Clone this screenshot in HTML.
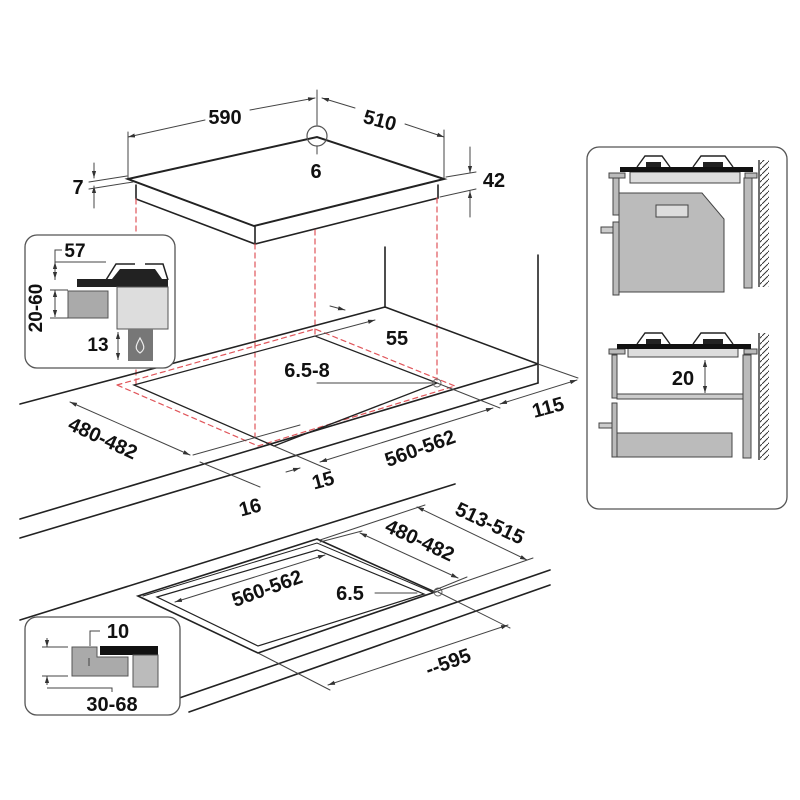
<!DOCTYPE html>
<html><head><meta charset="utf-8"><style>
html,body{margin:0;padding:0;background:#fff}
svg{display:block}
text{font-family:"Liberation Sans",sans-serif;font-weight:bold;fill:#111}
</style></head><body>
<svg width="800" height="800" viewBox="0 0 800 800" xmlns="http://www.w3.org/2000/svg">
<defs>
<marker id="a" viewBox="0 0 10 10" refX="10" refY="5" markerWidth="7" markerHeight="7" orient="auto-start-reverse"><path d="M0,2 L10,5 L0,8 z" fill="#333"/></marker>
<pattern id="h" width="6" height="6" patternUnits="userSpaceOnUse"><path d="M0,6 L6,0" stroke="#333" stroke-width="1"/></pattern>
</defs>
<g fill="none" stroke="#222" stroke-linecap="round">
<path d="M128,179 L317,137 L444,179 L254,226 Z" stroke-width="2"/>
<path d="M136,185 V199 L255,244 L438,198 V185" stroke-width="1.6"/>
<line x1="255" y1="226" x2="255" y2="244" stroke-width="1.6"/>
<circle cx="317" cy="136" r="10" stroke-width="1.2" stroke="#555"/>
<g stroke="#444" stroke-width="1">
<line x1="128" y1="132" x2="128" y2="178"/>
<line x1="317" y1="90" x2="317" y2="125"/><line x1="317" y1="146" x2="317" y2="154"/>
<line x1="444" y1="130" x2="444" y2="178"/>
<line x1="128" y1="137" x2="205" y2="120" marker-start="url(#a)"/>
<line x1="250" y1="110" x2="315" y2="98" marker-end="url(#a)"/>
<line x1="322" y1="98" x2="355" y2="108" marker-start="url(#a)"/>
<line x1="405" y1="124" x2="444" y2="137" marker-end="url(#a)"/>
<line x1="94" y1="163" x2="94" y2="178" marker-end="url(#a)"/>
<line x1="94" y1="208" x2="94" y2="186" marker-end="url(#a)"/>
<line x1="89" y1="182" x2="127" y2="176"/><line x1="89" y1="189" x2="133" y2="182"/>
<line x1="470" y1="147" x2="470" y2="173" marker-end="url(#a)"/>
<line x1="470" y1="217" x2="470" y2="191" marker-end="url(#a)"/>
<line x1="446" y1="177" x2="476" y2="172"/><line x1="440" y1="197" x2="476" y2="189"/>
</g>
<g stroke="#e0555a" stroke-width="1.2" stroke-dasharray="5,4">
<line x1="136" y1="199" x2="136" y2="385"/>
<line x1="255" y1="244" x2="255" y2="437"/>
<line x1="315" y1="230" x2="315" y2="335"/>
<line x1="437" y1="198" x2="437" y2="380"/>
<path d="M117,385 L315,329 L455,386 L258,446 Z"/>
</g>
<g stroke-width="1.6">
<line x1="20" y1="404" x2="385" y2="307"/>
<line x1="385" y1="307" x2="538" y2="364"/>
<line x1="538" y1="364" x2="20" y2="519"/>
<line x1="538" y1="383" x2="20" y2="538"/>
<line x1="538" y1="364" x2="538" y2="383"/>
<line x1="385" y1="247" x2="385" y2="307"/>
<line x1="538" y1="255" x2="538" y2="364"/>
<path d="M134,385 L315,336 L437,383 L274,446 Z" stroke-width="1.3"/>
</g>
<circle cx="437" cy="383" r="4" stroke-width="1" stroke="#666"/>
<g stroke="#444" stroke-width="1">
<line x1="317" y1="383" x2="433" y2="383"/>
<line x1="315" y1="336" x2="375" y2="320" marker-end="url(#a)"/>
<line x1="330" y1="306" x2="345" y2="310" marker-end="url(#a)"/>
<line x1="437" y1="383" x2="500" y2="408"/>
<line x1="538" y1="364" x2="578" y2="378"/>
<line x1="500" y1="404" x2="577" y2="380" marker-start="url(#a)" marker-end="url(#a)"/>
<line x1="320" y1="462" x2="493" y2="408" marker-start="url(#a)" marker-end="url(#a)"/>
<line x1="274" y1="446" x2="330" y2="470"/>
<line x1="70" y1="402" x2="190" y2="455" marker-start="url(#a)" marker-end="url(#a)"/>
<line x1="200" y1="462" x2="260" y2="487"/>
<line x1="193" y1="455" x2="300" y2="425"/>
<line x1="286" y1="472" x2="300" y2="468" marker-end="url(#a)"/>
</g>
<g stroke-width="1.6">
<line x1="20" y1="620" x2="455" y2="484"/>
<line x1="159" y1="705" x2="550" y2="570"/>
<line x1="189" y1="712" x2="550" y2="585"/>
</g>
<path d="M138,596 L317,539 L435,592 L258,653 Z" stroke-width="1.6"/>
<path d="M143,596 L317,543 L432,592" stroke-width="1"/>
<path d="M157,597 L317,550 L424,594 L258,646 Z" stroke-width="1.2"/>
<circle cx="438" cy="592" r="4" stroke-width="1" stroke="#666"/>
<g stroke="#444" stroke-width="1">
<line x1="175" y1="602" x2="325" y2="555" marker-start="url(#a)" marker-end="url(#a)"/>
<line x1="375" y1="593" x2="417" y2="593"/>
<line x1="320" y1="542" x2="362" y2="531"/>
<line x1="360" y1="533" x2="458" y2="578" marker-start="url(#a)" marker-end="url(#a)"/>
<line x1="435" y1="590" x2="467" y2="577"/>
<line x1="320" y1="540" x2="425" y2="505"/>
<line x1="417" y1="507" x2="527" y2="560" marker-start="url(#a)" marker-end="url(#a)"/>
<line x1="435" y1="592" x2="533" y2="558"/>
<line x1="438" y1="592" x2="510" y2="628"/>
<line x1="258" y1="653" x2="330" y2="690"/>
<line x1="328" y1="685" x2="508" y2="625" marker-start="url(#a)" marker-end="url(#a)"/>
</g>
</g>
<g font-size="20">
<text x="225" y="124" text-anchor="middle">590</text>
<text x="380" y="127" text-anchor="middle" transform="rotate(15 380 120)">510</text>
<text x="316" y="178" text-anchor="middle">6</text>
<text x="78" y="194" text-anchor="middle">7</text>
<text x="494" y="187" text-anchor="middle">42</text>
<text x="397" y="345" text-anchor="middle">55</text>
<text x="307" y="377" text-anchor="middle">6.5-8</text>
<text x="548" y="414" text-anchor="middle" transform="rotate(-15 548 407)">115</text>
<text x="420" y="455" text-anchor="middle" transform="rotate(-20 420 448)">560-562</text>
<text x="103" y="445" text-anchor="middle" transform="rotate(25 103 438)">480-482</text>
<text x="323" y="487" text-anchor="middle" transform="rotate(-15 323 480)">15</text>
<text x="250" y="514" text-anchor="middle" transform="rotate(-15 250 507)">16</text>
<text x="267" y="595" text-anchor="middle" transform="rotate(-20 267 588)">560-562</text>
<text x="350" y="600" text-anchor="middle">6.5</text>
<text x="420" y="547" text-anchor="middle" transform="rotate(25 420 540)">480-482</text>
<text x="490" y="530" text-anchor="middle" transform="rotate(25 490 523)">513-515</text>
<text x="448" y="669" text-anchor="middle" transform="rotate(-20 448 662)">--595</text>
</g>

<rect x="25" y="235" width="150" height="133" rx="12" fill="#fff" stroke="#555" stroke-width="1.3"/>
<path d="M106,280 L116,264 H135 M145,264 H163 L168,280" fill="none" stroke="#222" stroke-width="1.5"/>
<path d="M112,279 L120,269 H155 L162,279 Z" fill="#222"/>
<rect x="77" y="279" width="91" height="8" fill="#222"/>
<rect x="117" y="287" width="51" height="42" fill="#ddd" stroke="#555"/>
<rect x="68" y="291" width="40" height="27" fill="#aaa" stroke="#555"/>
<rect x="128" y="329" width="25" height="32" fill="#777"/>
<path d="M140,338 C136,345 134,349 140,353 C146,349 144,345 140,338 Z" fill="none" stroke="#eee" stroke-width="1.2"/>
<g stroke="#444" stroke-width="1" fill="none">
<path d="M62,250 H55 V280"/><line x1="55" y1="262" x2="106" y2="262"/>
<line x1="55" y1="262" x2="55" y2="279" marker-start="url(#a)" marker-end="url(#a)"/>
<line x1="55" y1="290" x2="55" y2="317" marker-start="url(#a)" marker-end="url(#a)"/>
<line x1="50" y1="290" x2="68" y2="290"/><line x1="50" y1="318" x2="68" y2="318"/>
<line x1="118" y1="332" x2="118" y2="360" marker-start="url(#a)" marker-end="url(#a)"/>
</g>
<text x="75" y="257" font-size="19" text-anchor="middle">57</text>
<text x="98" y="351" font-size="19" text-anchor="middle">13</text>
<text x="42" y="308" font-size="19" text-anchor="middle" transform="rotate(-90 42 308)">20-60</text>

<rect x="25" y="617" width="155" height="98" rx="12" fill="#fff" stroke="#555" stroke-width="1.3"/>
<rect x="100" y="646" width="58" height="9" fill="#111"/>
<rect x="133" y="655" width="25" height="32" fill="#bbb" stroke="#555"/>
<path d="M72,647 H97 V657 H128 V676 H72 Z" fill="#aaa" stroke="#555"/>
<g stroke="#444" stroke-width="1" fill="none">
<line x1="42" y1="647" x2="68" y2="647"/><line x1="42" y1="676" x2="68" y2="676"/>
<line x1="47" y1="638" x2="47" y2="647" marker-end="url(#a)"/>
<line x1="47" y1="685" x2="47" y2="676" marker-end="url(#a)"/>
<path d="M47,688 H112 V692"/>
<path d="M100,631 H90 V646"/>
<line x1="89" y1="658" x2="89" y2="666"/>
</g>
<text x="118" y="638" font-size="20" text-anchor="middle">10</text>
<text x="112" y="711" font-size="20" text-anchor="middle">30-68</text>

<rect x="587" y="147" width="200" height="362" rx="12" fill="#fff" stroke="#555" stroke-width="1.3"/>
<g stroke="#444" stroke-width="1">
<rect x="630" y="172" width="110" height="11" fill="#ddd"/>
<path d="M619,193 H702 L724,219 V292 H619 Z" fill="#bbb"/>
<rect x="656" y="205" width="32" height="12" fill="#ddd"/>
<rect x="613" y="178" width="6" height="37" fill="#bbb"/>
<rect x="613" y="222" width="6" height="73" fill="#bbb"/>
<rect x="601" y="227" width="12" height="6" fill="#ccc"/>
<rect x="744" y="178" width="8" height="110" fill="#bbb"/>
<rect x="609" y="173" width="16" height="5" fill="#bbb"/>
<rect x="745" y="173" width="12" height="5" fill="#bbb"/>
<rect x="628" y="347" width="110" height="10" fill="#ddd"/>
<rect x="612" y="355" width="5" height="43" fill="#bbb"/>
<rect x="617" y="394" width="126" height="5" fill="#ccc"/>
<rect x="612" y="403" width="5" height="54" fill="#bbb"/>
<rect x="599" y="423" width="13" height="5" fill="#ccc"/>
<rect x="617" y="433" width="115" height="24" fill="#bbb"/>
<rect x="743" y="355" width="8" height="103" fill="#bbb"/>
<rect x="609" y="349" width="16" height="5" fill="#bbb"/>
<rect x="744" y="349" width="13" height="5" fill="#bbb"/>
</g>
<rect x="620" y="167" width="133" height="5" fill="#111"/>
<rect x="617" y="344" width="134" height="5" fill="#111"/>
<g fill="none" stroke="#222" stroke-width="1.4">
<path d="M637,167 L645,156 H662 L670,167"/><path d="M693,167 L701,156 H725 L733,167"/>
<path d="M637,344 L645,333 H662 L670,344"/><path d="M693,344 L701,333 H725 L733,344"/>
</g>
<rect x="646" y="162" width="15" height="5" fill="#222"/><rect x="703" y="162" width="20" height="5" fill="#222"/>
<rect x="646" y="339" width="15" height="5" fill="#222"/><rect x="703" y="339" width="20" height="5" fill="#222"/>
<rect x="760" y="160" width="9" height="127" fill="url(#h)"/>
<rect x="760" y="333" width="9" height="127" fill="url(#h)"/>
<line x1="759" y1="160" x2="759" y2="287" stroke="#222" stroke-width="1.3"/>
<line x1="759" y1="333" x2="759" y2="460" stroke="#222" stroke-width="1.3"/>
<line x1="705" y1="360" x2="705" y2="393" stroke="#444" marker-start="url(#a)" marker-end="url(#a)"/>
<text x="683" y="385" font-size="20" text-anchor="middle">20</text>
</svg>
</body></html>
